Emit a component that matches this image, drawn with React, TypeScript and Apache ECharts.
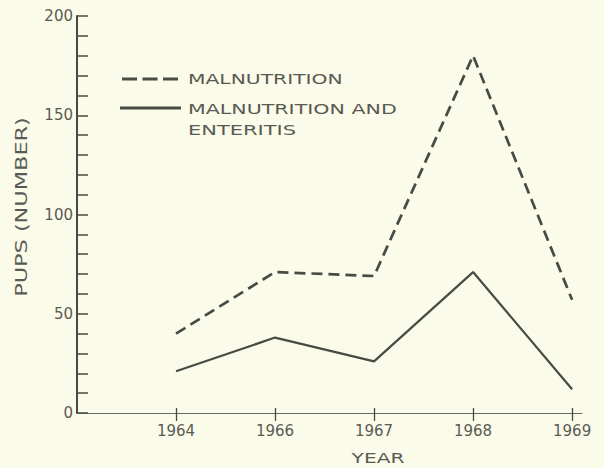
import React, { useEffect, useRef } from "react";
import * as echarts from "echarts";

const years = ["1964", "1966", "1967", "1968", "1969"];
const malnutrition = [40, 71, 69, 180, 57];
const malnutritionEnteritis = [21, 38, 26, 71, 12];
const yTickLabels = [0, 50, 100, 150, 200];
const legendNames = ["MALNUTRITION", "MALNUTRITION AND", "ENTERITIS"];
const xAxisTitle = "YEAR";
const yAxisTitle = "PUPS (NUMBER)";

const INK = "#4a4a45";
const TEXT = "#5a5a55";
const BG = "#fafbe8";
const FONT = "DejaVu Sans";

export default function App() {
  const ref = useRef<HTMLDivElement>(null);
  useEffect(() => {
    if (!ref.current) return;
    const chart = echarts.init(ref.current, undefined, { renderer: "svg" });
    const xIdx = years.map((_, i) => i);
    chart.setOption({
      animation: false,
      backgroundColor: BG,
      grid: { left: 77, right: 22, top: 16, bottom: 55 },
      xAxis: [
        {
          type: "value",
          min: -1,
          max: 4.1,
          axisLine: { show: true, onZero: false, lineStyle: { color: "#6a6a65", width: 1.2 } },
          axisTick: { show: true, length: 8, customValues: xIdx, lineStyle: { color: INK, width: 1.3 } },
          axisLabel: {
            customValues: xIdx,
            formatter: (v: number) => years[Math.round(v)] ?? "",
            fontSize: 15,
            fontFamily: FONT,
            color: TEXT,
            margin: 10,
          },
          splitLine: { show: false },
        },
        {
          type: "value",
          min: -1,
          max: 4.1,
          position: "bottom",
          axisLine: { show: false, onZero: false },
          axisTick: { show: true, inside: true, length: 5, customValues: xIdx, lineStyle: { color: INK, width: 1.3 } },
          axisLabel: { show: false },
          splitLine: { show: false },
        },
      ],
      yAxis: {
        type: "value",
        min: 0,
        max: 200,
        interval: 10,
        axisLine: { show: true, onZero: false, lineStyle: { color: INK, width: 2 } },
        axisTick: { show: true, inside: true, length: 11, lineStyle: { color: INK, width: 1.5 } },
        axisLabel: {
          customValues: yTickLabels,
          fontSize: 15,
          fontFamily: FONT,
          color: TEXT,
          margin: 4,
        },
        splitLine: { show: false },
      },
      series: [
        {
          name: legendNames[0],
          type: "line",
          xAxisIndex: 0,
          data: malnutrition.map((v, i) => [i, v]),
          symbol: "none",
          lineStyle: { color: INK, width: 2.7, type: [11, 6] },
        },
        {
          name: legendNames[1] + " " + legendNames[2],
          type: "line",
          xAxisIndex: 0,
          data: malnutritionEnteritis.map((v, i) => [i, v]),
          symbol: "none",
          lineStyle: { color: INK, width: 2.2, type: "solid" },
        },
      ],
      graphic: [
        {
          type: "line",
          shape: { x1: 122, y1: 79, x2: 178, y2: 79 },
          style: { stroke: INK, lineWidth: 3, lineDash: [15, 5.5] },
        },
        {
          type: "line",
          shape: { x1: 120, y1: 108, x2: 181, y2: 108 },
          style: { stroke: INK, lineWidth: 3 },
        },
        {
          type: "text",
          x: 188,
          y: 79,
          scaleX: 1.45,
          style: { text: legendNames[0], fontSize: 14, fontFamily: FONT, fill: TEXT, align: "left", verticalAlign: "middle" },
        },
        {
          type: "text",
          x: 188,
          y: 109,
          scaleX: 1.47,
          style: { text: legendNames[1], fontSize: 14, fontFamily: FONT, fill: TEXT, align: "left", verticalAlign: "middle" },
        },
        {
          type: "text",
          x: 188,
          y: 130,
          scaleX: 1.5,
          style: { text: legendNames[2], fontSize: 14, fontFamily: FONT, fill: TEXT, align: "left", verticalAlign: "middle" },
        },
        {
          type: "text",
          x: 378,
          y: 458,
          scaleX: 1.44,
          style: { text: xAxisTitle, fontSize: 14, fontFamily: FONT, fill: TEXT, align: "center", verticalAlign: "middle" },
        },
        {
          type: "text",
          x: 22,
          y: 207,
          rotation: Math.PI / 2,
          scaleX: 1.4,
          style: { text: yAxisTitle, fontSize: 16, fontFamily: FONT, fill: TEXT, align: "center", verticalAlign: "middle" },
        },
      ],
    });
    return () => chart.dispose();
  }, []);
  return (
    <div
      ref={ref}
      style={{ position: "fixed", left: 0, top: 0, width: 604, height: 468, background: BG }}
    />
  );
}
